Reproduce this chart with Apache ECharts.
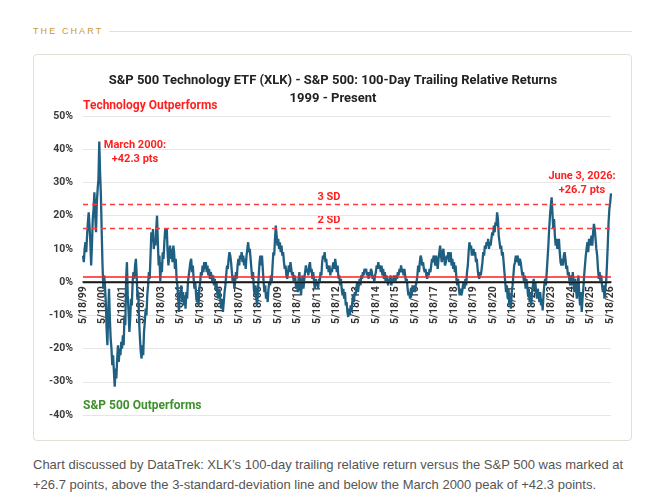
<!DOCTYPE html>
<html>
<head>
<meta charset="utf-8">
<script src="https://cdn.jsdelivr.net/npm/echarts/dist/echarts.min.js"></script>
<style>
  html, body { margin: 0; padding: 0; background: #fff; }
  body { width: 665px; height: 499px; position: relative; overflow: hidden; }
  .kicker { position: absolute; left: 33px; top: 26px; font: 9px "Liberation Sans", Arial, sans-serif; letter-spacing: 2.1px; color: #c99a2e; }
  .rule { position: absolute; left: 109px; top: 31px; width: 523px; height: 1px; background: #e5e1d8; }
  .card { position: absolute; left: 33px; top: 54px; width: 597px; height: 385px; border: 1px solid #e3dfd6; border-radius: 4px; }
  #main { position: absolute; left: 33px; top: 54px; width: 600px; height: 387px; }
  .caption { position: absolute; left: 33px; top: 455px; width: 620px; font: 13px "Liberation Sans", Arial, sans-serif; line-height: 20px; color: #555; white-space: nowrap; }
</style>
</head>
<body>
<div class="kicker">THE CHART</div>
<div class="rule"></div>
<div class="card"></div>
<div id="main"></div>
<div class="caption">Chart discussed by DataTrek: XLK’s 100-day trailing relative return versus the S&amp;P 500 was marked at<br>+26.7 points, above the 3-standard-deviation line and below the March 2000 peak of +42.3 points.</div>
<script>
// tick labels on the x axis (one per year)
const tickLabels = ['5/18/99', '5/18/00', '5/18/01', '5/18/02', '5/18/03', '5/18/04', '5/18/05',
  '5/18/06', '5/18/07', '5/18/08', '5/18/09', '5/18/10', '5/18/11', '5/18/12', '5/18/13',
  '5/18/14', '5/18/15', '5/18/16', '5/18/17', '5/18/18', '5/18/19', '5/18/20', '5/18/21',
  '5/18/22', '5/18/23', '5/18/24', '5/18/25', '5/18/26'];

// 100-day trailing relative return, XLK minus S&P 500 (%)
const relReturn = [
  8, 6, 10, 12, 9, 14, 18, 21, 17, 12, 5, 11, 19, 22, 27, 20, 15, 24, 28, 31, 42.3, 33, 26, 15,            // 99-00
  5, -2, 2, -1, -6, -14, -19, -9, -2, -11, -17, -20, -25, -22, -27, -31.5, -26, -29, -23, -19, -24, -20, -22, -18, // 00-01
  -20, -16, -19, -10, -13, 1, 6, -4, -9, -15, -11, -5, -7, 0, 3, 1, 5, 7, 2, -5, -3, -12, -17, -21,      // 01-02
  -23, -19, -22, -15, -12, -8, -10, -4, -1, 3, 1, 8, 15, 12, 16, 10, 13, 11, 16, 20, 12, 5, 8, 0,        // 02-03
  6, 3, 9, 7, 12, 16, 13, 16, 9, 5, 8, 11, 7, 10, 6, 11, 9, 4, 7, 1, -1, -5, -9, -3,                    // 03-04
  -4, -1, -6, -3, -7, -4, -8, -3, -5, 0, 2, 4, 6, 7, 3, 5, 1, -2, 0, -4, -6, -3, -7, -2,                // 04-05
  0, 3, 2, 5, 3, 6, 4, 6, 3, 5, 2, 4, 1, 3, 2, 0, 2, -1, 1, -2, 0, -3, -5, -2,                          // 05-06
  -3, -6, -8, -5, -9, -6, -3, -1, 2, 5, 4, 7, 9, 8, 6, 3, 0, 2, -2, 0, 3, 1, 5, 7,                      // 06-07
  5, 8, 7, 9, 6, 8, 5, 7, 4, 8, 10, 12, 9, 10, 7, 4, 1, 3, -2, -4, -1, -5, -7, -3,                      // 07-08
  2, 6, 8, 5, 8, 4, 0, -3, -1, -5, -3, -6, -2, 0, -1, 2, 0, 5, 9, 8, 13, 17, 14, 11,                    // 08-09
  13, 10, 12, 9, 11, 8, 9, 6, 4, 5, 2, 1, 3, 5, 3, 6, 4, 2, 3, 0, 2, 1, -2, 0,                          // 09-10
  -3, 1, 3, -1, -4, 0, 2, -2, 1, 3, 5, 3, 4, 2, 5, 6, 3, 4, 1, 3, 0, -2, 1, -1,                         // 10-11
  0, -2, 1, 0, 3, 2, 6, 8, 7, 9, 6, 7, 4, 5, 3, 5, 2, 4, 3, 5, 6, 4, 7, 5,                              // 11-12
  3, 5, 1, 2, -1, 1, -2, -4, -2, -5, -3, -7, -6, -9, -10.5, -8, -10, -7, -9, -6, -4, -6, -3, -4,        // 12-13
  -2, 0, -3, -1, 1, -1, 2, 1, 3, 2, 4, 3, 4, 2, 3, 1, 3, 2, 4, 3, 1, 2, 0, 2,                           // 13-14
  3, 5, 4, 6, 4, 5, 3, 5, 2, 4, 1, 3, 0, 2, 1, -1, 1, 0, 2, -1, 1, 0, 2, 1,                             // 14-15
  0, 2, 1, 3, 2, 4, 3, 5, 3, 4, 2, 4, 2, 0, 1, -2, -4, -3, -5, -2, -4, -1, -3, -1,                      // 15-16
  -3, -1, 0, 2, 5, 3, 6, 8, 7, 5, 6, 4, 3, 4, 2, 1, 3, 2, 4, 3, 5, 7, 6, 8,                             // 16-17
  7, 5, 8, 6, 4, 7, 9, 11, 8, 6, 9, 10, 7, 5, 6, 8, 7, 9, 6, 8, 9, 5, 7, 4,                             // 17-18
  6, 3, 5, 1, -1, 1, -2, -4, -2, -4, -3, -1, 0, -2, 1, -1, 3, 5, 9, 12, 10, 11, 8, 9,                   // 18-19
  10, 8, 9, 6, 7, 4, 2, 1, 3, 2, 4, 6, 9, 8, 11, 10, 12, 11, 13, 10, 12, 11, 13, 15,                    // 19-20
  14, 17, 15, 18, 17, 21, 19, 14, 12, 10, 11, 8, 9, 6, 3, 0, -3, -1, -5, -2, -7, -4, -8, -3,            // 20-21
  -1, 2, 5, 6, 8, 6, 8, 7, 5, 7, 6, 4, 2, 3, 0, 2, -2, 1, -1, -4, -2, -6, -3, -7,                       // 21-22
  -3, -1, 1, -2, 0, -3, -5, -2, -4, -6, -3, -7, -5, -8.5, -4, -1, 1, -1, 3, 7, 11, 16, 20, 23,          // 22-23
  25.5, 21, 16, 19, 14, 11, 13, 10, 12, 13, 9, 6, 5, 7, 5, 8, 9, 7, 4, 5, 2, 3, 0, -1,                  // 23-24
  2, -1, 3, 0, -3, 1, -2, -5, -1, 2, -4, -7, -3, -9, -5, -2, 2, 5, 8, 10, 12, 9, 13, 11,                // 24-25
  12, 14, 11, 15, 17.5, 16, 13, 10, 8, 4, 1, 3, 0, 2, -1, -3, -1, -5, -2, 0, 5, 11, 18, 22,             // 25-26
  24, 26.7                                                                                                // 5/18/26, 6/3/26
];

// reference lines: average, 2 SD, 3 SD
const avgLevel = 1.5;
const sd2Level = 16.3;
const sd3Level = 23.3;

// y axis ticks
const yMin = -40, yMax = 50, yStep = 10;

// sample dates: the 18th and the 3rd of each month from 5/18/99 to 6/3/26
const categories = [];
const fmt = (mo, d, yr) => mo + '/' + d + '/' + String(yr).slice(2);
for (let y = 1999; y < 2026; y++) {
  for (let m = 5; m < 17; m++) {
    categories.push(fmt((m - 1) % 12 + 1, 18, m > 12 ? y + 1 : y));
    categories.push(fmt(m % 12 + 1, 3, m + 1 > 12 ? y + 1 : y));
  }
}
categories.push('5/18/26', '6/3/26');

const font = "Roboto, 'Liberation Sans', sans-serif";
const gridTop = 62, gridBottom = 26, chartHeight = 387;
// move the category axis (line and labels) up to the 0% level
const zeroOffset = -(chartHeight - gridTop - gridBottom) * (0 - yMin) / (yMax - yMin);

const chart = echarts.init(document.getElementById('main'));

chart.setOption({
  animation: false,
  textStyle: { fontFamily: font },
  title: {
    text: 'S&P 500 Technology ETF (XLK) - S&P 500: 100-Day Trailing Relative Returns\n1999 - Present',
    left: 'center',
    top: 13,
    textStyle: { fontSize: 13, fontWeight: 'bold', color: '#222', lineHeight: 18, fontFamily: font }
  },
  grid: { left: 50, right: 22, top: gridTop, bottom: gridBottom, containLabel: false, outerBoundsMode: 'none' },
  xAxis: {
    type: 'category',
    data: categories,
    boundaryGap: false,
    position: 'bottom',
    offset: zeroOffset,
    axisLine: { onZero: false, lineStyle: { color: '#1a1a1a', width: 1.5 } },
    axisTick: { show: false },
    axisLabel: {
      interval: (idx, val) => tickLabels.includes(val),
      rotate: 90,
      margin: 4,
      fontSize: 10.5,
      fontWeight: 'bold',
      color: '#333',
      fontFamily: font
    },
    splitLine: { show: false }
  },
  yAxis: {
    type: 'value',
    min: yMin,
    max: yMax,
    interval: yStep,
    axisLine: { show: false },
    axisTick: { show: false },
    axisLabel: {
      formatter: '{value}%',
      margin: 10,
      fontSize: 10.5,
      fontWeight: 'bold',
      color: '#3a3a3a',
      fontFamily: font
    },
    splitLine: { lineStyle: { color: '#e6e6e6', width: 1 } }
  },
  series: [{
    type: 'line',
    data: relReturn,
    showSymbol: false,
    lineStyle: { color: '#1f5f82', width: 2.3 },
    z: 3,
    markLine: {
      silent: true,
      symbol: 'none',
      label: { show: false },
      data: [
        { yAxis: 0, lineStyle: { color: '#1a1a1a', type: 'solid', width: 1.3 } },
        { yAxis: avgLevel, lineStyle: { color: '#ff1f1f', type: 'solid', width: 1.5 } },
        { yAxis: sd2Level, lineStyle: { color: '#ff3b3b', type: [5, 4], width: 1.3 } },
        { yAxis: sd3Level, lineStyle: { color: '#ff3b3b', type: [5, 4], width: 1.3 } }
      ]
    }
  }],
  graphic: [
    { type: 'text', left: 50, top: 46, style: { text: 'Technology Outperforms', fill: '#ff1f1f', font: 'bold 12px ' + font } },
    { type: 'text', left: 50, top: 346, style: { text: 'S&P 500 Outperforms', fill: '#3f8f2f', font: 'bold 12px ' + font } },
    { type: 'text', x: 102, y: 84, style: { text: 'March 2000:\n+42.3 pts', fill: '#ff1f1f', font: 'bold 11px ' + font, align: 'center', lineHeight: 14 } },
    { type: 'text', x: 549, y: 115, style: { text: 'June 3, 2026:\n+26.7 pts', fill: '#ff1f1f', font: 'bold 11px ' + font, align: 'center', lineHeight: 14 } },
    { type: 'text', x: 296, y: 138, style: { text: '3 SD', fill: '#ff1f1f', font: 'bold 11px ' + font, align: 'center' } },
    { type: 'text', x: 296, y: 161, style: { text: '2 SD', fill: '#ff1f1f', font: 'bold 11px ' + font, align: 'center' } }
  ]
});
</script>
</body>
</html>
